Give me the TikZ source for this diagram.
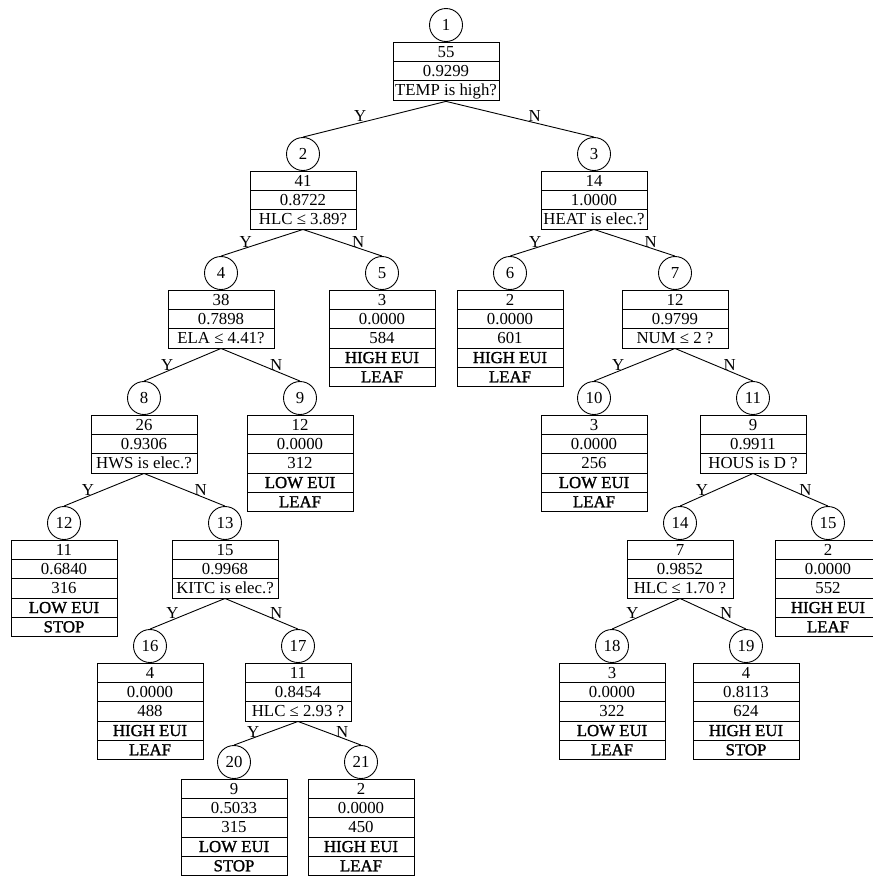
\documentclass[tikz,border=0pt]{standalone}
\usepackage{fontspec}
\setmainfont{Liberation Serif}
\newfontfamily\heavy{Liberation Serif}[FakeBold=1.4]
\usetikzlibrary{shapes.multipart,positioning}
\newcommand{\rs}{\rule[-2.7pt]{0pt}{16.3pt}}

\begin{document}
\begin{tikzpicture}[x=1pt, y=-1pt,
  font=\fontsize{16.8}{20}\selectfont,
  num/.style={draw, circle, minimum size=33pt, inner sep=0pt, line width=0.9pt},
  box/.style={draw, rectangle split, minimum width=106pt, inner xsep=1pt, inner ysep=1pt, line width=0.9pt},
  br/.style={line width=0.9pt},
  yn/.style={above, pos=0.7, inner sep=0.5pt},
]
\useasboundingbox (0,0) rectangle (873,876);

% ─── Level 0 ───
\node[num] (c1) at (446,25) {1};
\node[box, rectangle split parts=3, below=0pt of c1] (b1) {\rs 55\nodepart{two}\rs 0.9299\nodepart{three}\rs TEMP is high?};

% ─── Level 1 ───
\node[num] (c2) at (303,154) {2};
\node[box, rectangle split parts=3, below=0pt of c2] (b2) {\rs 41\nodepart{two}\rs 0.8722\nodepart{three}\rs HLC ≤ 3.89?};
\node[num] (c3) at (594,154) {3};
\node[box, rectangle split parts=3, below=0pt of c3] (b3) {\rs 14\nodepart{two}\rs 1.0000\nodepart{three}\rs HEAT is elec.?};

% ─── Level 2 ───
\node[num] (c4) at (221,273) {4};
\node[box, rectangle split parts=3, below=0pt of c4] (b4) {\rs 38\nodepart{two}\rs 0.7898\nodepart{three}\rs ELA ≤ 4.41?};
\node[num] (c5) at (382,273) {5};
\node[box, rectangle split parts=5, below=0pt of c5] (b5) {\rs 3\nodepart{two}\rs 0.0000\nodepart{three}\rs 584\nodepart{four}\rs{\heavy HIGH EUI}\nodepart{five}\rs{\heavy LEAF}};
\node[num] (c6) at (510,273) {6};
\node[box, rectangle split parts=5, below=0pt of c6] (b6) {\rs 2\nodepart{two}\rs 0.0000\nodepart{three}\rs 601\nodepart{four}\rs{\heavy HIGH EUI}\nodepart{five}\rs{\heavy LEAF}};
\node[num] (c7) at (675,273) {7};
\node[box, rectangle split parts=3, below=0pt of c7] (b7) {\rs 12\nodepart{two}\rs 0.9799\nodepart{three}\rs NUM ≤ 2 ?};

% ─── Level 3 ───
\node[num] (c8) at (144,398) {8};
\node[box, rectangle split parts=3, below=0pt of c8] (b8) {\rs 26\nodepart{two}\rs 0.9306\nodepart{three}\rs HWS is elec.?};
\node[num] (c9) at (300,398) {9};
\node[box, rectangle split parts=5, below=0pt of c9] (b9) {\rs 12\nodepart{two}\rs 0.0000\nodepart{three}\rs 312\nodepart{four}\rs{\heavy LOW EUI}\nodepart{five}\rs{\heavy LEAF}};
\node[num] (c10) at (594,398) {10};
\node[box, rectangle split parts=5, below=0pt of c10] (b10) {\rs 3\nodepart{two}\rs 0.0000\nodepart{three}\rs 256\nodepart{four}\rs{\heavy LOW EUI}\nodepart{five}\rs{\heavy LEAF}};
\node[num] (c11) at (753,398) {11};
\node[box, rectangle split parts=3, below=0pt of c11] (b11) {\rs 9\nodepart{two}\rs 0.9911\nodepart{three}\rs HOUS is D ?};

% ─── Level 4 ───
\node[num] (c12) at (64,523) {12};
\node[box, rectangle split parts=5, below=0pt of c12] (b12) {\rs 11\nodepart{two}\rs 0.6840\nodepart{three}\rs 316\nodepart{four}\rs{\heavy LOW EUI}\nodepart{five}\rs{\heavy STOP}};
\node[num] (c13) at (225,523) {13};
\node[box, rectangle split parts=3, below=0pt of c13] (b13) {\rs 15\nodepart{two}\rs 0.9968\nodepart{three}\rs KITC is elec.?};
\node[num] (c14) at (680,523) {14};
\node[box, rectangle split parts=3, below=0pt of c14] (b14) {\rs 7\nodepart{two}\rs 0.9852\nodepart{three}\rs HLC ≤ 1.70 ?};
\node[num] (c15) at (828,523) {15};
\node[box, rectangle split parts=5, below=0pt of c15] (b15) {\rs 2\nodepart{two}\rs 0.0000\nodepart{three}\rs 552\nodepart{four}\rs{\heavy HIGH EUI}\nodepart{five}\rs{\heavy LEAF}};

% ─── Level 5 ───
\node[num] (c16) at (150,646) {16};
\node[box, rectangle split parts=5, below=0pt of c16] (b16) {\rs 4\nodepart{two}\rs 0.0000\nodepart{three}\rs 488\nodepart{four}\rs{\heavy HIGH EUI}\nodepart{five}\rs{\heavy LEAF}};
\node[num] (c17) at (298,646) {17};
\node[box, rectangle split parts=3, below=0pt of c17] (b17) {\rs 11\nodepart{two}\rs 0.8454\nodepart{three}\rs HLC ≤ 2.93 ?};
\node[num] (c18) at (612,646) {18};
\node[box, rectangle split parts=5, below=0pt of c18] (b18) {\rs 3\nodepart{two}\rs 0.0000\nodepart{three}\rs 322\nodepart{four}\rs{\heavy LOW EUI}\nodepart{five}\rs{\heavy LEAF}};
\node[num] (c19) at (746,646) {19};
\node[box, rectangle split parts=5, below=0pt of c19] (b19) {\rs 4\nodepart{two}\rs 0.8113\nodepart{three}\rs 624\nodepart{four}\rs{\heavy HIGH EUI}\nodepart{five}\rs{\heavy STOP}};

% ─── Level 6 ───
\node[num] (c20) at (234,762) {20};
\node[box, rectangle split parts=5, below=0pt of c20] (b20) {\rs 9\nodepart{two}\rs 0.5033\nodepart{three}\rs 315\nodepart{four}\rs{\heavy LOW EUI}\nodepart{five}\rs{\heavy STOP}};
\node[num] (c21) at (361,762) {21};
\node[box, rectangle split parts=5, below=0pt of c21] (b21) {\rs 2\nodepart{two}\rs 0.0000\nodepart{three}\rs 450\nodepart{four}\rs{\heavy HIGH EUI}\nodepart{five}\rs{\heavy LEAF}};

% ─── Branches (Y = left, N = right) ───
\draw[br] (b1.south) -- node[yn, pos=0.6]{Y} (c2.north);
\draw[br] (b1.south) -- node[yn, pos=0.6]{N} (c3.north);
\draw[br] (b2.south) -- node[yn]{Y} (c4.north);
\draw[br] (b2.south) -- node[yn]{N} (c5.north);
\draw[br] (b3.south) -- node[yn]{Y} (c6.north);
\draw[br] (b3.south) -- node[yn]{N} (c7.north);
\draw[br] (b4.south) -- node[yn]{Y} (c8.north);
\draw[br] (b4.south) -- node[yn]{N} (c9.north);
\draw[br] (b7.south) -- node[yn]{Y} (c10.north);
\draw[br] (b7.south) -- node[yn]{N} (c11.north);
\draw[br] (b8.south) -- node[yn]{Y} (c12.north);
\draw[br] (b8.south) -- node[yn]{N} (c13.north);
\draw[br] (b11.south) -- node[yn]{Y} (c14.north);
\draw[br] (b11.south) -- node[yn]{N} (c15.north);
\draw[br] (b13.south) -- node[yn]{Y} (c16.north);
\draw[br] (b13.south) -- node[yn]{N} (c17.north);
\draw[br] (b14.south) -- node[yn]{Y} (c18.north);
\draw[br] (b14.south) -- node[yn]{N} (c19.north);
\draw[br] (b17.south) -- node[yn]{Y} (c20.north);
\draw[br] (b17.south) -- node[yn]{N} (c21.north);

\end{tikzpicture}
\end{document}
